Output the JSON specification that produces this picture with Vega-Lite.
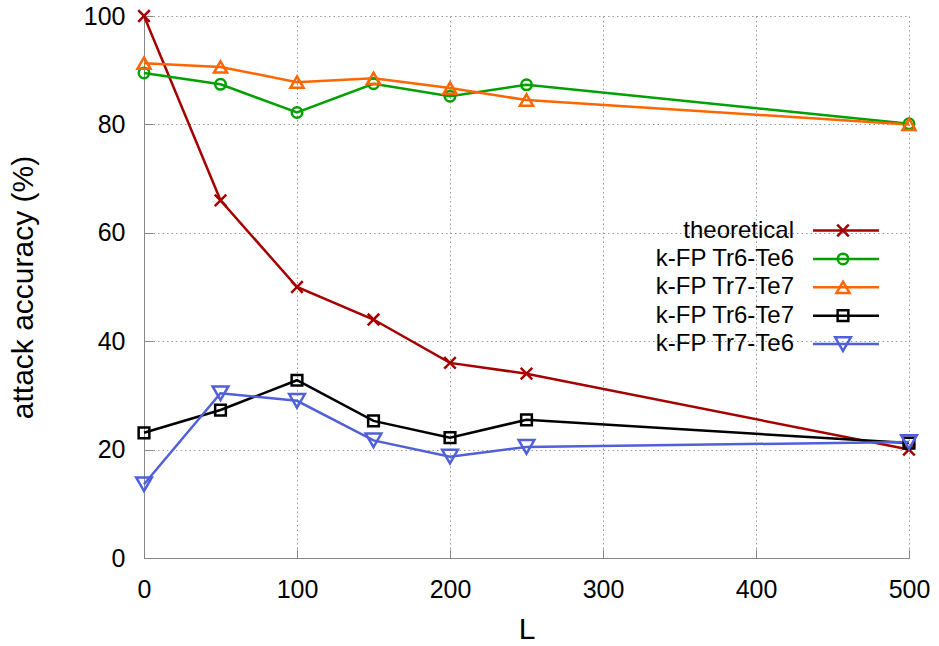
{
  "$schema": "https://vega.github.io/schema/vega-lite/v6.json",
  "width": 765,
  "height": 542,
  "autosize": {"type": "none"},
  "padding": {"left": 144, "top": 16, "right": 30, "bottom": 88},
  "background": "white",
  "config": {
    "view": {"stroke": null},
    "font": "Liberation Sans",
    "axis": {
      "labelFont": "Liberation Sans",
      "titleFont": "Liberation Sans",
      "labelFontSize": 25,
      "titleFontSize": 30,
      "titleFontWeight": "normal",
      "labelColor": "#000000",
      "titleColor": "#000000",
      "domainColor": "#888888",
      "tickColor": "#888888",
      "gridColor": "#999999",
      "gridDash": [1.5, 3],
      "gridWidth": 1,
      "tickSize": -9,
      "labelFlush": false
    },
    "legend": {"labelFont": "Liberation Sans", "labelFontSize": 24, "labelColor": "#000000"}
  },
  "data": {
    "values": [
      {"L": 0, "acc": 100, "series": "theoretical"},
      {"L": 50, "acc": 66, "series": "theoretical"},
      {"L": 100, "acc": 50, "series": "theoretical"},
      {"L": 150, "acc": 44, "series": "theoretical"},
      {"L": 200, "acc": 36, "series": "theoretical"},
      {"L": 250, "acc": 34, "series": "theoretical"},
      {"L": 500, "acc": 20, "series": "theoretical"},
      {"L": 0, "acc": 89.5, "series": "k-FP Tr6-Te6"},
      {"L": 50, "acc": 87.4, "series": "k-FP Tr6-Te6"},
      {"L": 100, "acc": 82.2, "series": "k-FP Tr6-Te6"},
      {"L": 150, "acc": 87.5, "series": "k-FP Tr6-Te6"},
      {"L": 200, "acc": 85.2, "series": "k-FP Tr6-Te6"},
      {"L": 250, "acc": 87.3, "series": "k-FP Tr6-Te6"},
      {"L": 500, "acc": 80.1, "series": "k-FP Tr6-Te6"},
      {"L": 0, "acc": 91.3, "series": "k-FP Tr7-Te7"},
      {"L": 50, "acc": 90.6, "series": "k-FP Tr7-Te7"},
      {"L": 100, "acc": 87.8, "series": "k-FP Tr7-Te7"},
      {"L": 150, "acc": 88.5, "series": "k-FP Tr7-Te7"},
      {"L": 200, "acc": 86.7, "series": "k-FP Tr7-Te7"},
      {"L": 250, "acc": 84.5, "series": "k-FP Tr7-Te7"},
      {"L": 500, "acc": 80.0, "series": "k-FP Tr7-Te7"},
      {"L": 0, "acc": 23.1, "series": "k-FP Tr6-Te7"},
      {"L": 50, "acc": 27.3, "series": "k-FP Tr6-Te7"},
      {"L": 100, "acc": 32.8, "series": "k-FP Tr6-Te7"},
      {"L": 150, "acc": 25.3, "series": "k-FP Tr6-Te7"},
      {"L": 200, "acc": 22.2, "series": "k-FP Tr6-Te7"},
      {"L": 250, "acc": 25.5, "series": "k-FP Tr6-Te7"},
      {"L": 500, "acc": 21.2, "series": "k-FP Tr6-Te7"},
      {"L": 0, "acc": 13.6, "series": "k-FP Tr7-Te6"},
      {"L": 50, "acc": 30.4, "series": "k-FP Tr7-Te6"},
      {"L": 100, "acc": 29.0, "series": "k-FP Tr7-Te6"},
      {"L": 150, "acc": 21.7, "series": "k-FP Tr7-Te6"},
      {"L": 200, "acc": 18.7, "series": "k-FP Tr7-Te6"},
      {"L": 250, "acc": 20.5, "series": "k-FP Tr7-Te6"},
      {"L": 500, "acc": 21.4, "series": "k-FP Tr7-Te6"}
    ]
  },
  "encoding": {
    "x": {
      "field": "L", "type": "quantitative",
      "scale": {"domain": [0, 500], "nice": false, "zero": false},
      "axis": {"values": [0, 100, 200, 300, 400, 500], "title": "L", "labelPadding": 28, "titlePadding": 12, "grid": true}
    },
    "y": {
      "field": "acc", "type": "quantitative",
      "scale": {"domain": [0, 100], "nice": false},
      "axis": {"values": [0, 20, 40, 60, 80, 100], "title": "attack accuracy (%)", "labelPadding": 28, "titlePadding": 45, "grid": true}
    }
  },
  "layer": [
    {
      "mark": {"type": "line", "strokeWidth": 2.5},
      "encoding": {
        "color": {
          "field": "series", "type": "nominal",
          "sort": ["theoretical", "k-FP Tr6-Te6", "k-FP Tr7-Te7", "k-FP Tr6-Te7", "k-FP Tr7-Te6"],
          "scale": {
            "range": ["#a50000", "#00a000", "#ff6600", "#000000", "#5060d8"]
          },
          "legend": {
            "title": null, "orient": "none", "legendX": 690, "legendY": 202.5,
            "symbolType": "M-5,0H5", "symbolSize": 174, "symbolStrokeWidth": 2.5,
            "labelExpr": "''", "rowPadding": 4.4
          }
        }
      }
    },
    {
      "mark": {"type": "point", "size": 110, "strokeWidth": 2.5, "filled": false, "opacity": 1},
      "encoding": {
        "stroke": {
          "field": "series", "type": "nominal",
          "scale": {
            "domain": ["theoretical", "k-FP Tr6-Te6", "k-FP Tr7-Te7", "k-FP Tr6-Te7", "k-FP Tr7-Te6"],
            "range": ["#a50000", "#00a000", "#ff6600", "#000000", "#5060d8"]
          },
          "legend": {
            "title": null, "orient": "none", "legendX": 687, "legendY": 202.5,
            "symbolSize": 110, "symbolStrokeWidth": 2.5, "symbolFillColor": "transparent",
            "labelAlign": "right", "labelOffset": -61, "rowPadding": 4.4
          }
        },
        "shape": {
          "field": "series", "type": "nominal",
          "scale": {
            "domain": ["theoretical", "k-FP Tr6-Te6", "k-FP Tr7-Te7", "k-FP Tr6-Te7", "k-FP Tr7-Te6"],
            "range": [
              "M-1.1,-1.1L1.1,1.1M-1.1,1.1L1.1,-1.1",
              "M1,0A1,1 0 1,1 -1,0A1,1 0 1,1 1,0Z",
              "M0,-1.08L1.25,1.08L-1.25,1.08Z",
              "M-1.02,-1.02H1.02V1.02H-1.02Z",
              "M0,1.3L1.5,-1.3L-1.5,-1.3Z"
            ]
          },
          "legend": {
            "title": null, "orient": "none", "legendX": 687, "legendY": 202.5,
            "symbolSize": 110, "symbolStrokeWidth": 2.5, "symbolFillColor": "transparent",
            "labelAlign": "right", "labelOffset": -61, "rowPadding": 4.4
          }
        }
      }
    }
  ]
}
